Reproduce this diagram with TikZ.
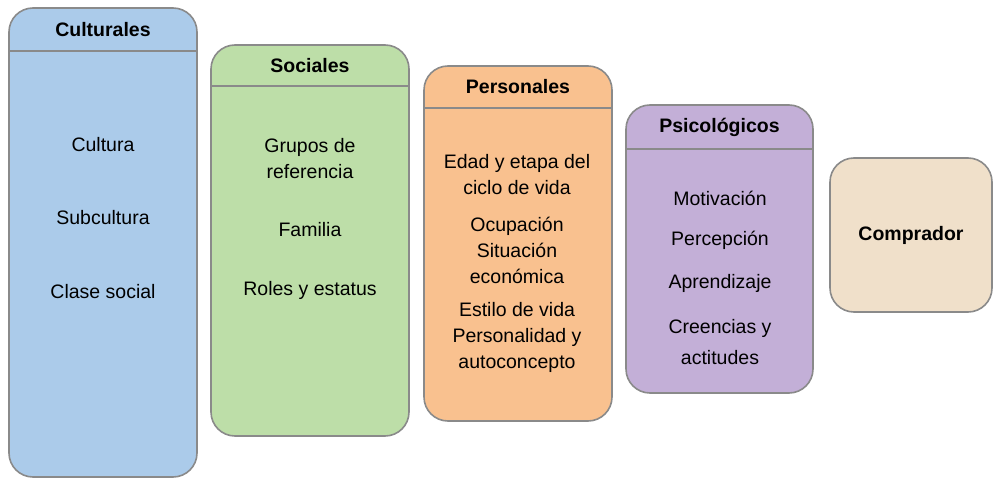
\documentclass[tikz,border=0pt]{standalone}
\usepackage{fontspec}
\setmainfont{Liberation Sans}
\definecolor{azul}{HTML}{ABCBEA}
\definecolor{verde}{HTML}{BDDEA8}
\definecolor{naranja}{HTML}{F9C18F}
\definecolor{lila}{HTML}{C3AFD7}
\definecolor{crema}{HTML}{F0E0CA}
\definecolor{borde}{HTML}{8A8A8A}
\begin{document}
\begin{tikzpicture}[x=1pt,y=-1pt,
    caja/.style={draw=borde,line width=1.6pt,rounded corners=24pt,inner sep=0pt},
    titulo/.style={font=\fontsize{19.5}{26}\selectfont\bfseries,inner sep=0pt},
    item/.style={font=\fontsize{19.5}{26}\selectfont,align=center,inner sep=0pt}]
  \useasboundingbox (0,0) rectangle (994,481);
  \path
    (103,242.5) node[caja,fill=azul,minimum width=188pt,minimum height=469pt] (cult){}
    (310,240.5) node[caja,fill=verde,minimum width=198pt,minimum height=391pt] (soc){}
    (518,243.5) node[caja,fill=naranja,minimum width=188pt,minimum height=355pt] (pers){}
    (719.5,249) node[caja,fill=lila,minimum width=187pt,minimum height=288pt] (psic){}
    (911,235) node[caja,fill=crema,minimum width=162pt,minimum height=154pt] (comp){};
  \begin{scope}[draw=borde,line width=1.6pt]
    \draw ([yshift=-44pt]cult.north west) -- ([yshift=-44pt]cult.north east);
    \draw ([yshift=-42pt]soc.north west) -- ([yshift=-42pt]soc.north east);
    \draw ([yshift=-43pt]pers.north west) -- ([yshift=-43pt]pers.north east);
    \draw ([yshift=-45pt]psic.north west) -- ([yshift=-45pt]psic.north east);
  \end{scope}
  \path
    ([yshift=-22pt]cult.north) node[titulo] (tcult){Culturales}
    ([yshift=-21pt]soc.north) node[titulo] (tsoc){Sociales}
    ([yshift=-21pt]pers.north) node[titulo] (tpers){Personales}
    ([yshift=-23pt]psic.north) node[titulo] (tpsic){Psicológicos}
    (comp.center) node[titulo] (tcomp){Comprador};
  \path
    (103,145) node[item] (c1){Cultura}
    (103,218) node[item] (c2){Subcultura}
    (103,292) node[item] (c3){Clase social}
    (310,159) node[item] (s1){Grupos de\\referencia}
    (310,230) node[item] (s2){Familia}
    (310,290) node[item] (s3){Roles y estatus}
    (517,174.5) node[item] (p1){Edad y etapa del\\ciclo de vida}
    (517,250) node[item] (p2){Ocupación\\Situación\\económica}
    (517,337.5) node[item] (p3){Estilo de vida\\Personalidad y\\autoconcepto}
    (720,198) node[item] (q1){Motivación}
    (720,240) node[item] (q2){Percepción}
    (720,283) node[item] (q3){Aprendizaje}
    (720,342.5) node[item] (q4){Creencias y\\[5pt]actitudes};
\end{tikzpicture}
\end{document}
